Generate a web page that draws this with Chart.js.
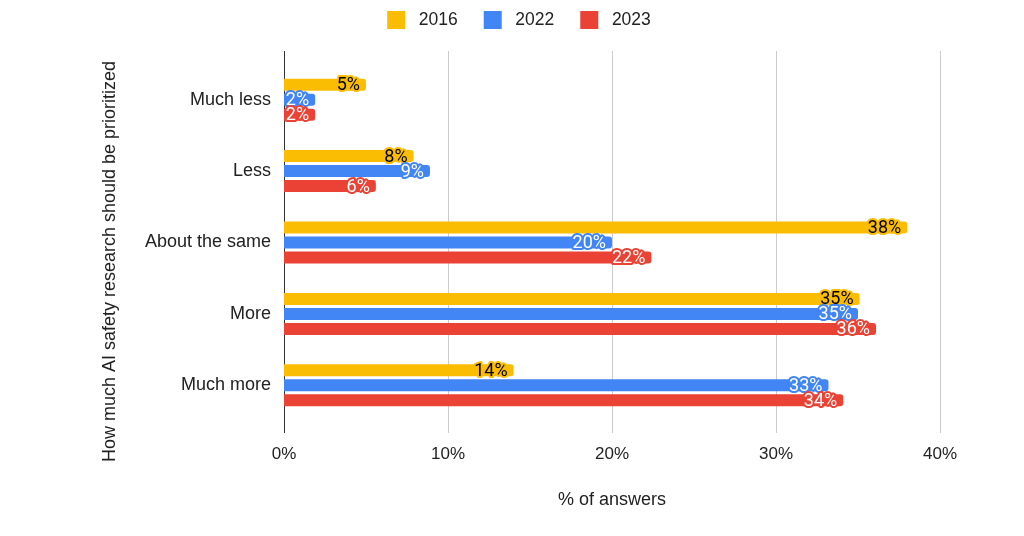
<!DOCTYPE html>
<html>
<head>
<meta charset="utf-8">
<script src="https://cdn.jsdelivr.net/npm/chart.js@4/dist/chart.umd.min.js"></script>
<style>
  html, body { margin: 0; padding: 0; background: #fff; }
  #wrap { width: 1024px; height: 536px; }
</style>
</head>
<body>
<div id="wrap"><canvas id="grafico"></canvas></div>
<script>
'use strict'

const categorias = ['Much less', 'Less', 'About the same', 'More', 'Much more'];
const series = ['2016', '2022', '2023'];
const valores2016 = [5, 7.9, 38, 35.1, 14];
const valores2022 = [1.9, 8.9, 20, 35, 33.2];
const valores2023 = [1.9, 5.6, 22.4, 36.1, 34.1];
const ticksX = [0, 10, 20, 30, 40];

const colores = ['#fbbc04', '#4285f4', '#ea4335'];
const coloresTexto = ['#000000', '#ffffff', '#ffffff'];
const fuente = "'Liberation Sans', Arial, sans-serif";

// legend: fixed height so the plot starts where the original does,
// and centred on the whole canvas rather than the padded area
const legendFit = {
  id: 'legendFit',
  beforeInit(chart) {
    const fit = chart.legend.fit;
    chart.legend.fit = function () {
      fit.call(this);
      this.height = 79;
    };
  },
  afterLayout(chart) {
    chart.legend.left = 7;
    chart.legend.right = chart.width + 7;
    chart.legend.width = chart.width;
  }
};

// grid lines that run a bit past the bars, like the original
const gridLargo = {
  id: 'gridLargo',
  beforeDatasetsDraw(chart) {
    const {ctx, chartArea, scales: {x}} = chart;
    const top = chartArea.top - 13;
    const bottom = chartArea.bottom + 12;
    ctx.save();
    ctx.lineWidth = 1;
    ticksX.forEach(v => {
      const px = Math.round(x.getPixelForValue(v)) + 0.5;
      ctx.strokeStyle = v === 0 ? '#333333' : '#cccccc';
      ctx.beginPath();
      ctx.moveTo(px, top);
      ctx.lineTo(px, bottom);
      ctx.stroke();
    });
    ctx.restore();
  }
};

// value labels at the end of each bar
const etiquetas = {
  id: 'etiquetas',
  afterDatasetsDraw(chart) {
    const {ctx} = chart;
    ctx.save();
    ctx.font = "18px Roboto, 'Liberation Sans', sans-serif";
    ctx.textAlign = 'right';
    ctx.textBaseline = 'middle';
    ctx.lineJoin = 'round';
    chart.data.datasets.forEach((ds, i) => {
      const meta = chart.getDatasetMeta(i);
      meta.data.forEach((bar, j) => {
        const txt = Math.round(ds.data[j]) + '%';
        const tx = bar.x - 6;
        const ty = bar.y + 1;
        ctx.lineWidth = 4;
        ctx.strokeStyle = colores[i];
        ctx.strokeText(txt, tx, ty);
        ctx.fillStyle = coloresTexto[i];
        ctx.fillText(txt, tx, ty);
      });
    });
    ctx.restore();
  }
};

// the y title sits a little lower than the middle of the plot in the original
function bajarTitulo(s) {
  if (s._tituloMovido) return;
  s._tituloMovido = true;
  const orig = s.drawTitle;
  s.drawTitle = function () {
    this.ctx.save();
    this.ctx.translate(0, 19);
    orig.call(this);
    this.ctx.restore();
  };
}

const data = {
  labels: categorias,
  datasets: [
    { label: series[0], data: valores2016, backgroundColor: colores[0] },
    { label: series[1], data: valores2022, backgroundColor: colores[1] },
    { label: series[2], data: valores2023, backgroundColor: colores[2] }
  ]
};

const config = {
  type: 'bar',
  data,
  options: {
    indexAxis: 'y',
    responsive: true,
    maintainAspectRatio: false,
    animation: false,
    layout: { padding: { top: -15, left: 0, right: 84, bottom: 0 } },
    datasets: {
      bar: {
        categoryPercentage: 0.63,
        barPercentage: 0.8,
        borderRadius: 3,
        borderSkipped: 'start'
      }
    },
    plugins: {
      legend: {
        position: 'top',
        labels: {
          boxWidth: 18,
          boxHeight: 18,
          padding: 26,
          color: '#222222',
          font: { family: fuente, size: 17.5 },
          generateLabels(chart) {
            const items = Chart.defaults.plugins.legend.labels.generateLabels(chart);
            items.forEach(it => { it.text = ' ' + it.text; });
            return items;
          }
        }
      },
      tooltip: { enabled: false }
    },
    scales: {
      x: {
        min: 0,
        max: 40,
        afterFit(s) { s.height = 115; },
        afterBuildTicks(s) { s.ticks = ticksX.map(v => ({ value: v })); },
        grid: { display: false, drawTicks: false },
        border: { display: false },
        ticks: {
          padding: 23,
          color: '#222222',
          font: { family: fuente, size: 17 },
          callback: v => v + '%'
        },
        title: {
          display: true,
          text: '% of answers',
          color: '#222222',
          font: { family: fuente, size: 18 },
          padding: { top: 25, bottom: 25 }
        }
      },
      y: {
        afterFit(s) { s.width = 284; bajarTitulo(s); },
        grid: { display: false, drawTicks: false },
        border: { display: false },
        ticks: {
          padding: 13,
          color: '#222222',
          font: { family: fuente, size: 18 }
        },
        title: {
          display: true,
          text: 'How much AI safety research should be prioritized',
          color: '#222222',
          font: { family: fuente, size: 18 },
          padding: { top: 99, bottom: 99 }
        }
      }
    }
  },
  plugins: [legendFit, gridLargo, etiquetas]
};

const grafico = new Chart(document.querySelector('#grafico'), config);
</script>
</body>
</html>
